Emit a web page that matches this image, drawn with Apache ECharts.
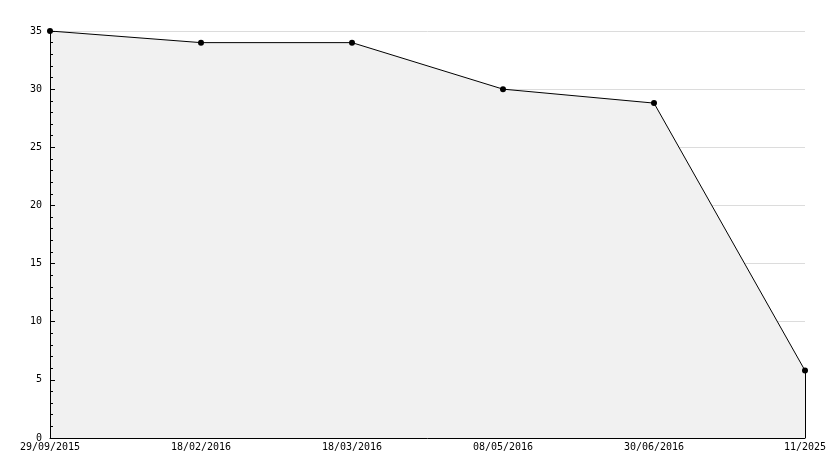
<!DOCTYPE html>
<html>
<head>
<meta charset="utf-8">
<script src="https://cdn.jsdelivr.net/npm/echarts@6/dist/echarts.min.js"></script>
<style>
  html, body { margin: 0; padding: 0; background: #fff; }
  #chart { width: 834px; height: 468px; }
</style>
</head>
<body>
<div id="chart"></div>
<script>
// data
const dates = ['29/09/2015', '18/02/2016', '18/03/2016', '08/05/2016', '30/06/2016', '11/2025']
const values = [35, 34, 34, 30, 28.8, 5.8]
const yTicks = [0, 5, 10, 15, 20, 25, 30, 35]

const font = 'DejaVu Sans Mono'
const lastDate = dates[dates.length - 1]
const lastValue = values[values.length - 1]
const yMin = yTicks[0]
const yMax = yTicks[yTicks.length - 1]

let myChart = echarts.init(document.getElementById('chart'))
const option = {
  animation: false,
  grid: { left: 50, right: 29, top: 31, bottom: 30 },
  xAxis: {
    type: 'category',
    data: dates,
    boundaryGap: false,
    z: 10,
    axisLine: { lineStyle: { color: '#000', width: 1 } },
    axisTick: { show: false },
    axisLabel: { color: '#000', fontFamily: font, fontSize: 10, margin: 4, interval: 0 },
    splitLine: { show: false }
  },
  yAxis: [
    {
      // labels + grid, drawn under the area
      type: 'value',
      min: yMin,
      max: yMax,
      interval: 5,
      axisLine: { show: false },
      axisTick: { show: false },
      axisLabel: { color: '#000', fontFamily: font, fontSize: 10, margin: 8 },
      splitLine: { show: true, lineStyle: { color: '#dcdcdc', width: 1 } }
    },
    {
      // axis line + ticks, drawn over the area
      type: 'value',
      position: 'left',
      min: yMin,
      max: yMax,
      interval: 5,
      z: 10,
      axisLine: { show: true, lineStyle: { color: '#000', width: 1 } },
      axisTick: { show: true, inside: true, length: 5, lineStyle: { color: '#000' } },
      minorTick: { show: true, splitNumber: 5, length: 3, lineStyle: { color: '#000' } },
      axisLabel: { show: false },
      splitLine: { show: false }
    }
  ],
  series: [
    {
      type: 'line',
      yAxisIndex: 0,
      data: values,
      symbol: 'circle',
      symbolSize: 6,
      z: 5,
      itemStyle: { color: '#000' },
      lineStyle: { color: '#000', width: 1 },
      areaStyle: { color: '#f1f1f1', opacity: 1 },
      markLine: {
        silent: true,
        symbol: ['none', 'none'],
        label: { show: false },
        lineStyle: { color: '#000', width: 1, type: 'solid' },
        data: [[{ coord: [lastDate, 0] }, { coord: [lastDate, lastValue] }]]
      }
    }
  ]
}
myChart.setOption(option)
</script>
</body>
</html>
